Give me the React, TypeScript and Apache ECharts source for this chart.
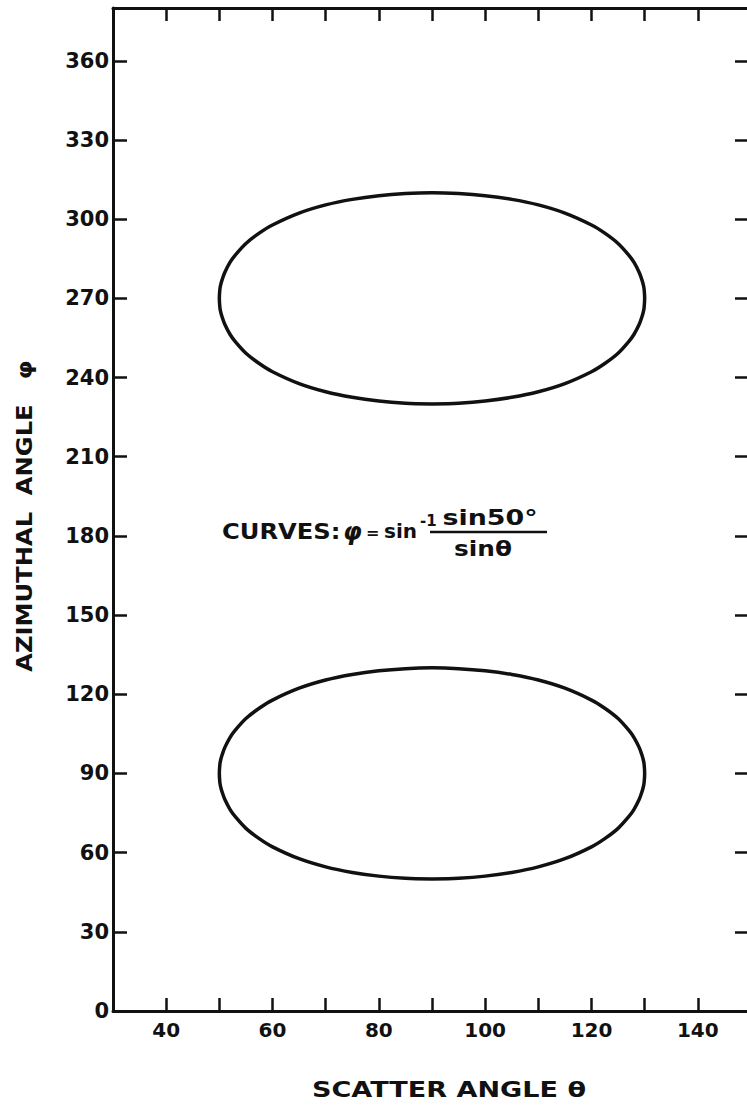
import React, { useEffect, useRef } from "react";
import * as echarts from "echarts";

// Scatter angle θ sample positions (degrees) along each closed curve
const thetaPoints = [50, 50.1, 50.25, 50.5, 51, 52, 53, 55, 57.5, 60, 65, 70, 75, 80, 85, 90, 95, 100, 105, 110, 115, 120, 122.5, 125, 127, 128, 129, 129.5, 129.75, 129.9, 130];

// Lower curve (around φ = 90°)
const lowerBottomPhi = [90, 86.6, 84.9, 83.1, 80.3, 76.4, 73.6, 69.2, 65.3, 62.2, 57.7, 54.6, 52.5, 51.1, 50.3, 50, 50.3, 51.1, 52.5, 54.6, 57.7, 62.2, 65.3, 69.2, 73.6, 76.4, 80.3, 83.1, 84.9, 86.6, 90];
const lowerTopPhi = [90, 93.4, 95.1, 96.9, 99.7, 103.6, 106.4, 110.8, 114.7, 117.8, 122.3, 125.4, 127.5, 128.9, 129.7, 130, 129.7, 128.9, 127.5, 125.4, 122.3, 117.8, 114.7, 110.8, 106.4, 103.6, 99.7, 96.9, 95.1, 93.4, 90];

// Upper curve (around φ = 270°)
const upperBottomPhi = [270, 266.6, 264.9, 263.1, 260.3, 256.4, 253.6, 249.2, 245.3, 242.2, 237.7, 234.6, 232.5, 231.1, 230.3, 230, 230.3, 231.1, 232.5, 234.6, 237.7, 242.2, 245.3, 249.2, 253.6, 256.4, 260.3, 263.1, 264.9, 266.6, 270];
const upperTopPhi = [270, 273.4, 275.1, 276.9, 279.7, 283.6, 286.4, 290.8, 294.7, 297.8, 302.3, 305.4, 307.5, 308.9, 309.7, 310, 309.7, 308.9, 307.5, 305.4, 302.3, 297.8, 294.7, 290.8, 286.4, 283.6, 279.7, 276.9, 275.1, 273.4, 270];

// Axis labels
const xLabelValues = [40, 60, 80, 100, 120, 140];
const yLabelValues = [0, 30, 60, 90, 120, 150, 180, 210, 240, 270, 300, 330, 360];

const FONT = "DejaVu Sans";
const INK = "#111";

function buildLoop(bottom: number[], top: number[]): number[][] {
  const n = thetaPoints.length;
  const mid = Math.floor(n / 2);
  const pts: number[][] = [];
  for (let i = mid; i < n; i++) pts.push([thetaPoints[i], bottom[i]]);
  for (let i = n - 1; i >= 0; i--) pts.push([thetaPoints[i], top[i]]);
  for (let i = 0; i <= mid; i++) pts.push([thetaPoints[i], bottom[i]]);
  return pts;
}

export default function App() {
  const ref = useRef<HTMLDivElement>(null);
  useEffect(() => {
    if (!ref.current) return;
    const chart = echarts.init(ref.current, undefined, { renderer: "svg" });
    const axisLineStyle = { color: INK, width: 3 };
    const tickStyle = { color: INK, width: 2.5 };
    const curveStyle = { color: INK, width: 3.5 };
    chart.setOption({
      animation: false,
      backgroundColor: "#ffffff",
      grid: { left: 113, top: 8, width: 638, height: 1003, containLabel: false, outerBoundsMode: "none" },
      xAxis: [
        {
          type: "value", min: 30, max: 150, interval: 10, position: "bottom",
          axisLine: { show: true, onZero: false, lineStyle: axisLineStyle },
          axisTick: { show: true, inside: true, length: 13, lineStyle: tickStyle },
          axisLabel: {
            show: true, margin: 9, color: INK, fontFamily: FONT, fontSize: 20, fontWeight: "bold",
            formatter: (v: number) => (xLabelValues.indexOf(v) >= 0 ? String(v) : ""),
          },
          splitLine: { show: false },
        },
        {
          type: "value", min: 30, max: 150, interval: 10, position: "top",
          axisLine: { show: true, onZero: false, lineStyle: axisLineStyle },
          axisTick: { show: true, inside: true, length: 13, lineStyle: tickStyle },
          axisLabel: { show: false },
          splitLine: { show: false },
        },
      ],
      yAxis: [
        {
          type: "value", min: 0, max: 380, interval: 30, position: "left",
          axisLine: { show: true, onZero: false, lineStyle: axisLineStyle },
          axisTick: { show: true, inside: true, length: 14, lineStyle: tickStyle },
          axisLabel: {
            show: true, margin: 4, color: INK, fontFamily: FONT, fontSize: 21, fontWeight: "bold",
            formatter: (v: number) => (yLabelValues.indexOf(v) >= 0 ? String(v) : ""),
          },
          splitLine: { show: false },
        },
        {
          type: "value", min: 0, max: 380, interval: 30, position: "right",
          axisLine: { show: true, onZero: false, lineStyle: axisLineStyle },
          axisTick: { show: true, inside: true, length: 16, lineStyle: tickStyle },
          axisLabel: { show: false },
          splitLine: { show: false },
        },
      ],
      series: [
        {
          type: "line", xAxisIndex: 0, yAxisIndex: 0, showSymbol: false, symbol: "none",
          smooth: 0.3, lineStyle: curveStyle, data: buildLoop(upperBottomPhi, upperTopPhi),
        },
        {
          type: "line", xAxisIndex: 0, yAxisIndex: 0, showSymbol: false, symbol: "none",
          smooth: 0.3, lineStyle: curveStyle, data: buildLoop(lowerBottomPhi, lowerTopPhi),
        },
      ],
      graphic: [
        {
          type: "text", x: 449, y: 1089, scaleX: 1.23,
          style: { text: "SCATTER ANGLE θ", fill: INK, font: `bold 22px '${FONT}'`, align: "center", verticalAlign: "middle" },
        },
        {
          type: "text", x: 24, y: 516, rotation: Math.PI / 2, scaleX: 1.1,
          style: { text: "AZIMUTHAL  ANGLE   φ", fill: INK, font: `bold 22px '${FONT}'`, align: "center", verticalAlign: "middle" },
        },
        {
          type: "text", x: 222, y: 531, scaleX: 1.1,
          style: { text: "CURVES:", fill: INK, font: `bold 22px '${FONT}'`, align: "left", verticalAlign: "middle" },
        },
        {
          type: "text", x: 343, y: 532,
          style: { text: "φ", fill: INK, font: `italic bold 24px '${FONT}'`, align: "left", verticalAlign: "middle" },
        },
        {
          type: "text", x: 366, y: 532,
          style: { text: "=", fill: INK, font: `bold 16px '${FONT}'`, align: "left", verticalAlign: "middle" },
        },
        {
          type: "text", x: 384, y: 531,
          style: { text: "sin", fill: INK, font: `bold 20px '${FONT}'`, align: "left", verticalAlign: "middle" },
        },
        {
          type: "text", x: 420, y: 521,
          style: { text: "-1", fill: INK, font: `bold 15px '${FONT}'`, align: "left", verticalAlign: "middle" },
        },
        {
          type: "line", shape: { x1: 430, y1: 532, x2: 547, y2: 532 },
          style: { stroke: INK, lineWidth: 2.5 },
        },
        {
          type: "text", x: 490, y: 518, scaleX: 1.28,
          style: { text: "sin50°", fill: INK, font: `bold 21px '${FONT}'`, align: "center", verticalAlign: "middle" },
        },
        {
          type: "text", x: 483, y: 549, scaleX: 1.18,
          style: { text: "sinθ", fill: INK, font: `bold 21px '${FONT}'`, align: "center", verticalAlign: "middle" },
        },
      ],
    });
    return () => chart.dispose();
  }, []);
  return (
    <div
      ref={ref}
      style={{ position: "absolute", left: 0, top: 0, width: 747, height: 1106, overflow: "hidden", background: "#fff" }}
    />
  );
}
